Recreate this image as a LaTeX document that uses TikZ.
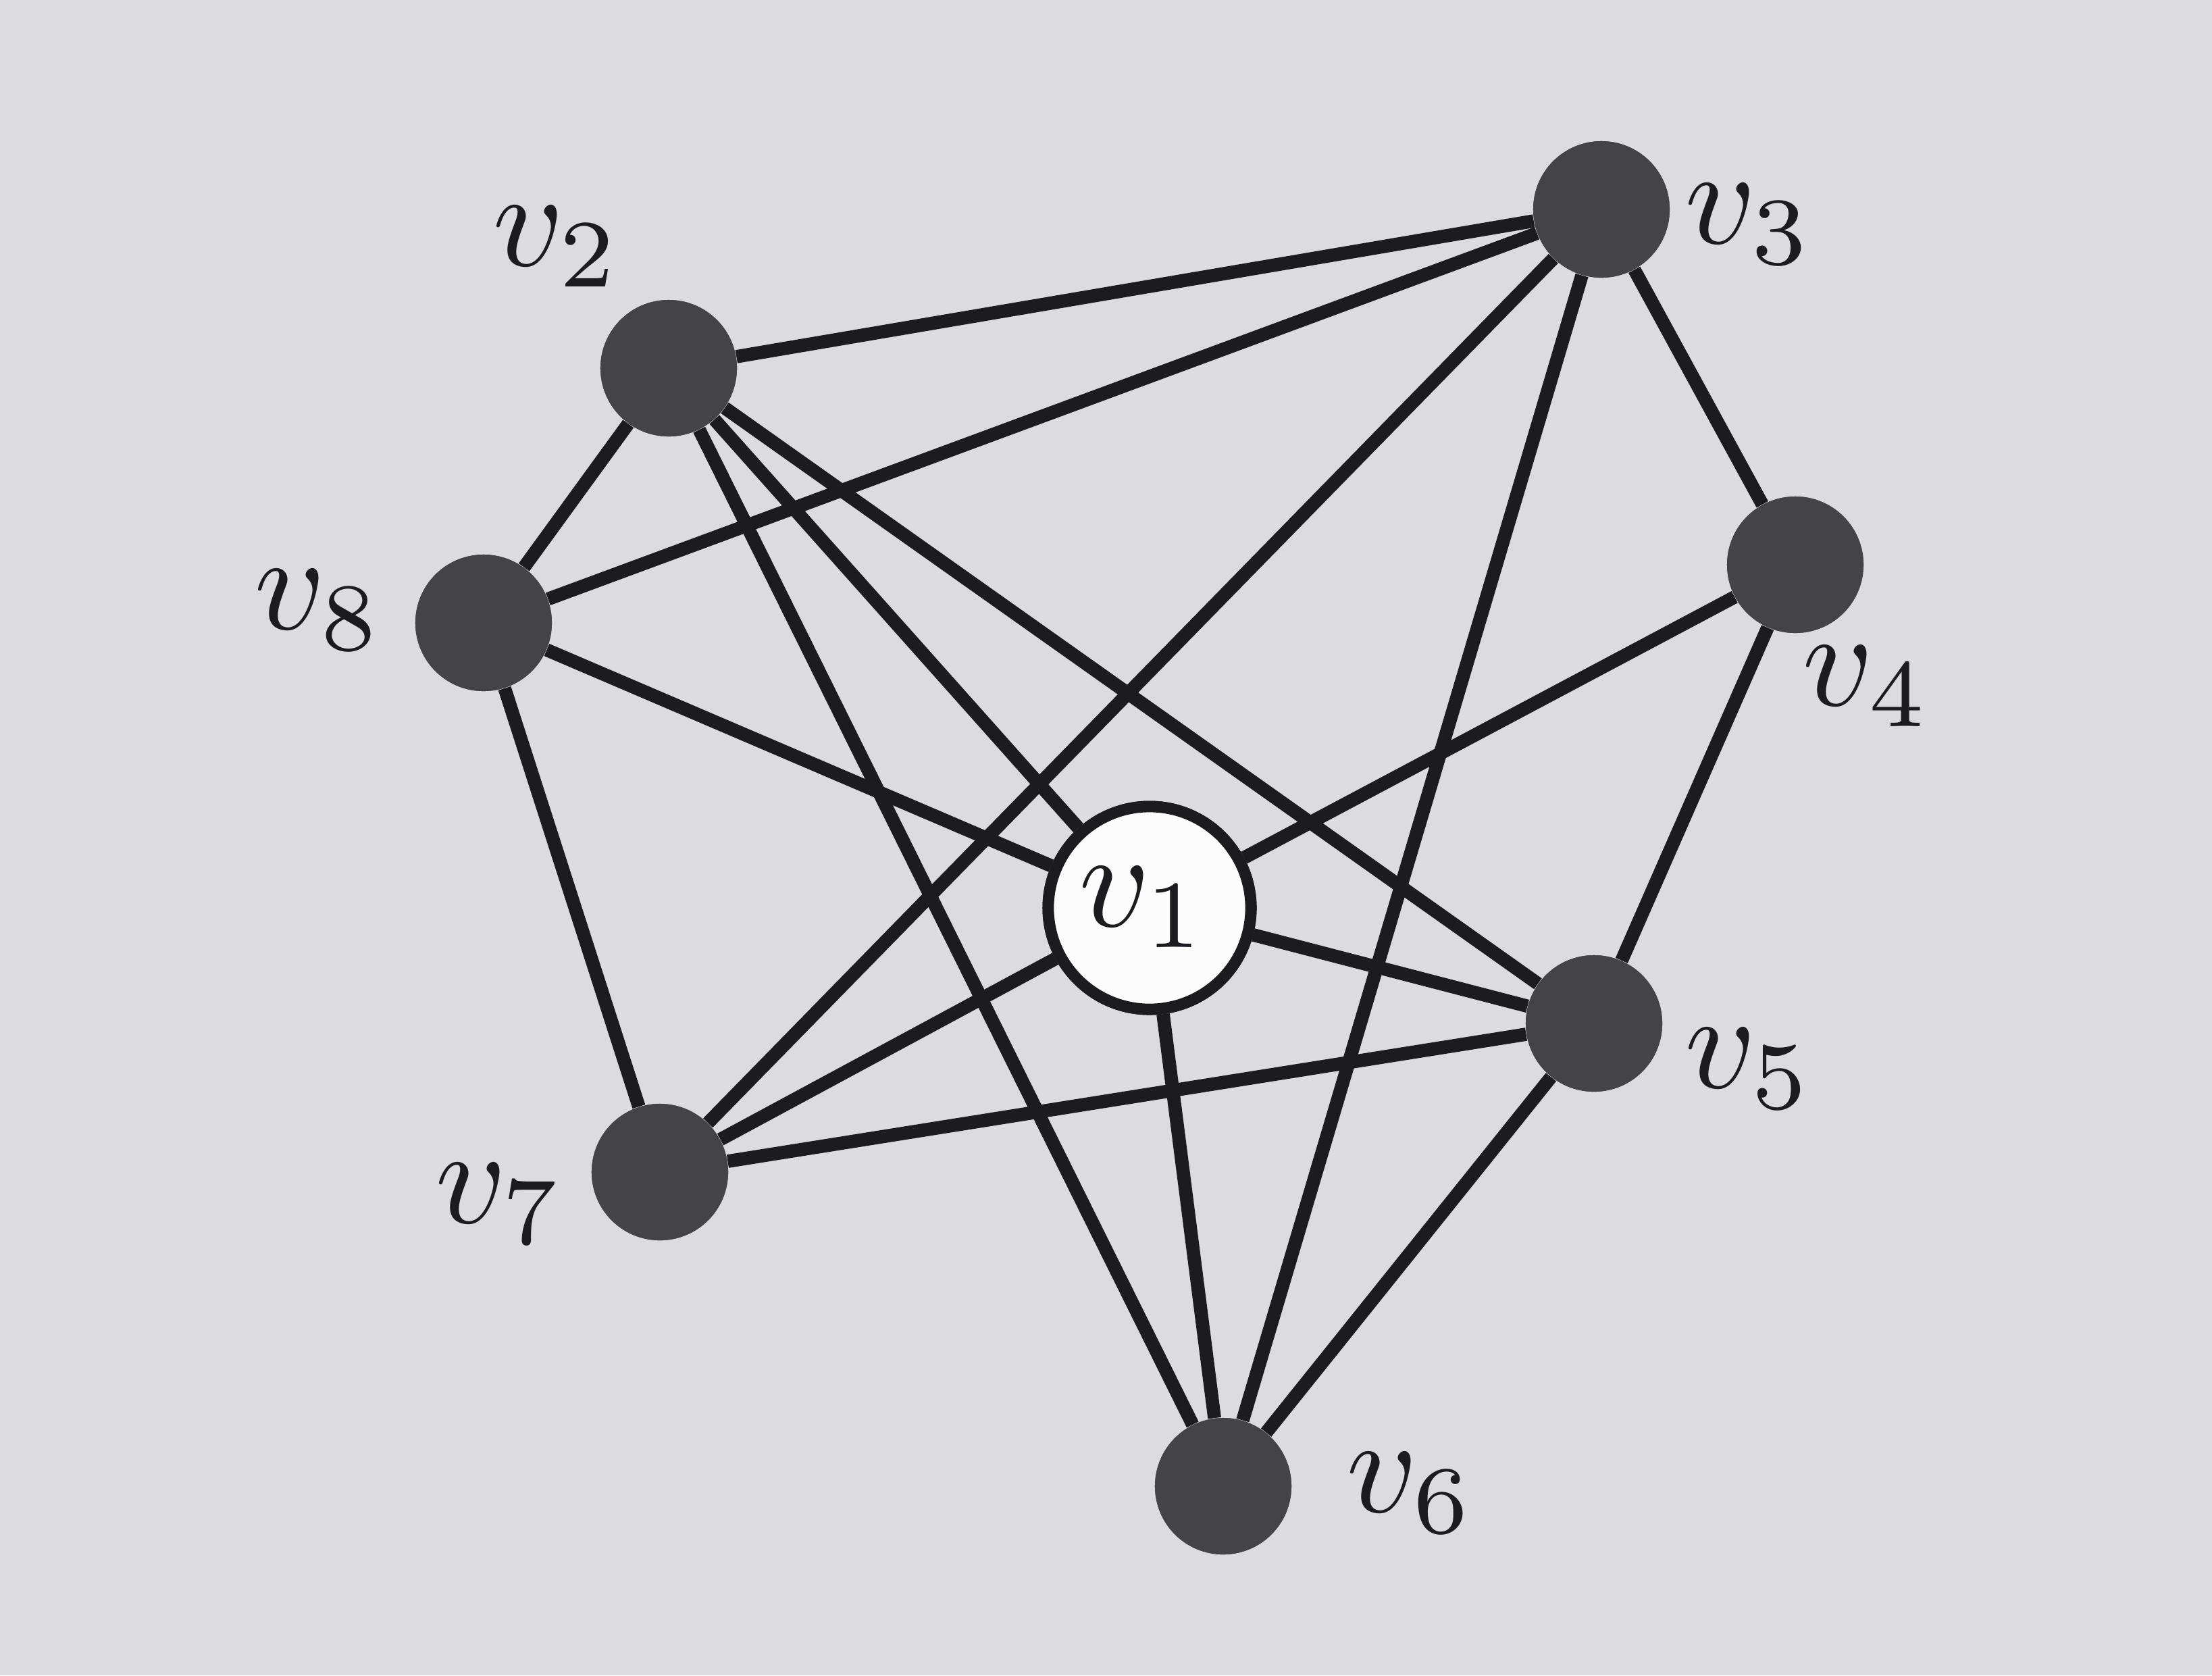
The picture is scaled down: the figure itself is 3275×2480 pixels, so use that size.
\documentclass[tikz,border=0pt]{standalone}
\usetikzlibrary{shapes.geometric}
\definecolor{paper}{RGB}{220,220,222}
\definecolor{dotfill}{RGB}{68,68,72}
\definecolor{ink}{RGB}{28,28,32}
\begin{document}
\begin{tikzpicture}[x=0.01cm,y=-0.01cm,
  vert/.style={circle,inner sep=0pt,fill=dotfill,draw=none,minimum size=2.02cm},
  center/.style={circle,inner sep=0pt,fill=white!92!paper,draw=ink,line width=4.8pt,minimum size=3.0cm},
  edge/.style={draw=ink,line width=5.6pt},
  lab/.style={scale=5.8,text=ink,inner sep=0pt}]
\fill[paper] (0,0) rectangle (3275,2480);
\useasboundingbox (0,0) rectangle (3275,2480);
% vertices
\node[center] (v1) at (1702,1344) {};
\node[vert] (v2) at (990,545) {};
\node[vert] (v3) at (2371,310) {};
\node[vert] (v4) at (2658,836) {};
\node[vert] (v5) at (2360,1515) {};
\node[vert] (v6) at (1811,2200) {};
\node[vert] (v7) at (977,1735) {};
\node[vert] (v8) at (716,922) {};
% edges
\path[edge] (v2) -- (v3);
\path[edge] (v2) -- (v8);
\path[edge] (v2) -- (v1);
\path[edge] (v2) -- (v5);
\path[edge] (v2) -- (v6);
\path[edge] (v3) -- (v8);
\path[edge] (v3) -- (v4);
\path[edge] (v3) -- (v7);
\path[edge] (v3) -- (v6);
\path[edge] (v4) -- (v1);
\path[edge] (v4) -- (v5);
\path[edge] (v8) -- (v1);
\path[edge] (v8) -- (v7);
\path[edge] (v1) -- (v7);
\path[edge] (v1) -- (v5);
\path[edge] (v1) -- (v6);
\path[edge] (v7) -- (v5);
\path[edge] (v5) -- (v6);
% redraw vertices on top
\node[center] at (v1) {};
\foreach \n in {v2,v3,v4,v5,v6,v7,v8} {\node[vert] at (\n) {};}
% labels
\node[lab] (l1) at (1693,1343) {$v_1$};
\node[lab] (l2) at (825,365) {$v_2$};
\node[lab] (l3) at (2590,332) {$v_3$};
\node[lab] (l4) at (2764,1016) {$v_4$};
\node[lab] (l5) at (2590,1582) {$v_5$};
\node[lab] (l6) at (2089,2210) {$v_6$};
\node[lab] (l7) at (740,1782) {$v_7$};
\node[lab] (l8) at (472,903) {$v_8$};
\end{tikzpicture}
\end{document}
